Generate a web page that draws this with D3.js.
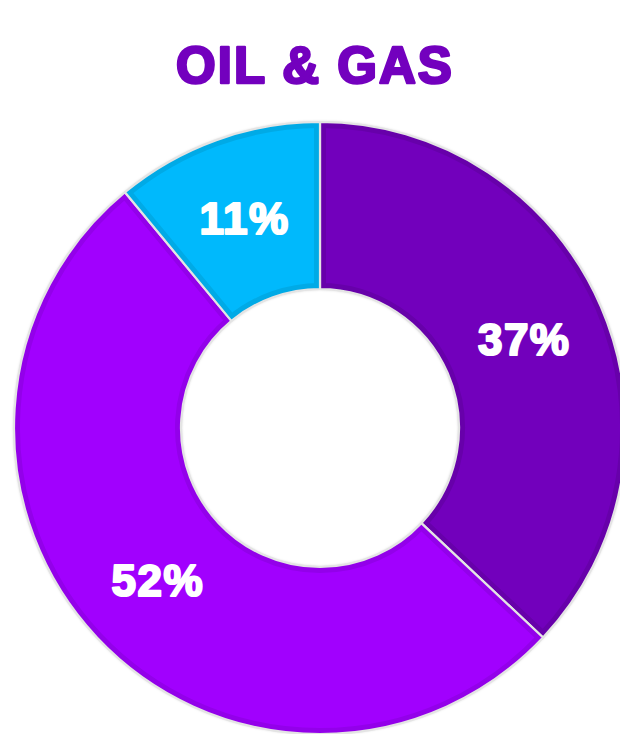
<!DOCTYPE html>
<html>
<head>
<meta charset="utf-8">
<script src="https://cdn.jsdelivr.net/npm/d3@7"></script>
<style>
  html, body { margin: 0; padding: 0; background: #fff; }
  svg { display: block; }
</style>
</head>
<body>
<svg id="chart" width="620" height="734"></svg>
<script>
// Share of the oil & gas mix, clockwise from 12 o'clock
const categories = ["A", "B", "C"];
const shares = [37, 52, 11];
const labels = ["37%", "52%", "11%"];
const fills = ["#7200bc", "#a100fe", "#00b9fc"];
const edges = ["#6700aa", "#9300ea", "#00aae6"];

const width = 620, height = 734;
const cx = 320, cy = 428;
const outerR = 306, innerR = 139;

const svg = d3.select("#chart");
const defs = svg.append("defs");

// soft grey halo around the ring
const halo = defs.append("filter").attr("id", "halo")
  .attr("x", "-10%").attr("y", "-10%").attr("width", "120%").attr("height", "120%");
halo.append("feDropShadow").attr("dx", 0).attr("dy", 0)
  .attr("stdDeviation", 1.6).attr("flood-color", "#000").attr("flood-opacity", 0.28);

svg.append("text")
  .attr("x", 315).attr("y", 83)
  .attr("text-anchor", "middle")
  .style("font-family", "'Liberation Sans', Arial, sans-serif")
  .style("font-weight", "bold")
  .style("font-size", "51px")
  .style("letter-spacing", "2px")
  .attr("fill", "#7300be")
  .attr("stroke", "#7300be")
  .attr("stroke-width", 2.6)
  .attr("stroke-linejoin", "round")
  .text("OIL & GAS");

const pie = d3.pie().sort(null).value(d => d.value);
const arcs = pie(categories.map((c, i) => ({ key: c, value: shares[i], i })));
const arc = d3.arc().innerRadius(innerR).outerRadius(outerR);

const g = svg.append("g").attr("transform", `translate(${cx},${cy})`);

// ring outline with halo
g.append("path")
  .attr("d", d3.arc().innerRadius(innerR).outerRadius(outerR).startAngle(0).endAngle(2 * Math.PI)())
  .attr("fill", "#fff")
  .attr("filter", "url(#halo)");

arcs.forEach((a, i) => {
  defs.append("clipPath").attr("id", "clip" + i)
    .append("path").attr("d", arc(a));
});

const slices = g.selectAll("g.slice").data(arcs).join("g").attr("class", "slice");

slices.append("path")
  .attr("d", arc)
  .attr("fill", d => fills[d.data.i]);

// darker inset rim inside each slice
slices.append("path")
  .attr("d", arc)
  .attr("fill", "none")
  .attr("stroke", d => edges[d.data.i])
  .attr("stroke-width", 12)
  .attr("clip-path", d => `url(#clip${d.data.i})`);

// light separators between slices and around the ring
slices.append("path")
  .attr("d", arc)
  .attr("fill", "none")
  .attr("stroke", "#e4e4e4")
  .attr("stroke-width", 2.2)
  .attr("stroke-linejoin", "round");

const labelArc = d3.arc().innerRadius(innerR).outerRadius(outerR);
slices.append("text")
  .attr("transform", d => `translate(${labelArc.centroid(d)})`)
  .attr("text-anchor", "middle")
  .attr("dy", "0.36em")
  .style("font-family", "'Liberation Sans', Arial, sans-serif")
  .style("font-weight", "bold")
  .style("font-size", "44px")
  .style("letter-spacing", "1.5px")
  .attr("fill", "#fff")
  .attr("stroke", "#fff")
  .attr("stroke-width", 2.2)
  .attr("stroke-linejoin", "round")
  .text(d => labels[d.data.i]);
</script>
</body>
</html>
